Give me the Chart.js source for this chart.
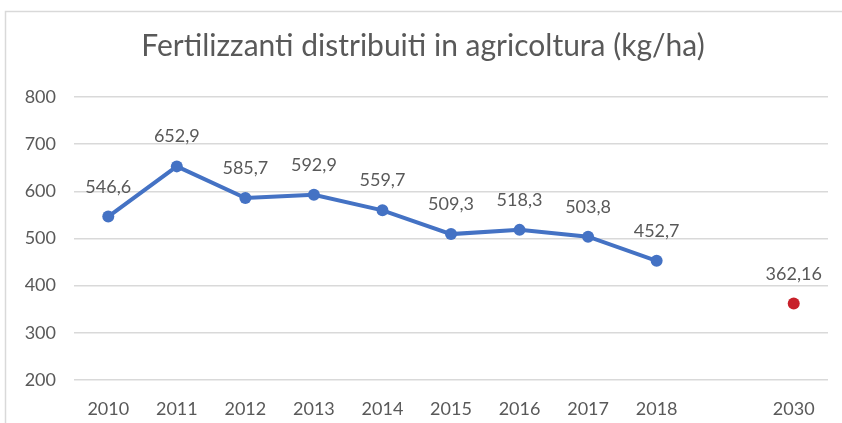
<!DOCTYPE html>
<html>
<head>
<meta charset="utf-8">
<script src="https://cdn.jsdelivr.net/npm/chart.js@4"></script>
<style>
  html, body { margin: 0; padding: 0; background: #fff; }
  #wrap { width: 842px; height: 423px; position: relative; }
</style>
</head>
<body>
<div id="wrap"><canvas id="chart" width="842" height="423"></canvas></div>
<script>
// categories: 2018 and 2030 are separated by an empty slot
const years = ['2010', '2011', '2012', '2013', '2014', '2015', '2016', '2017', '2018', '', '2030'];
const storico = [546.6, 652.9, 585.7, 592.9, 559.7, 509.3, 518.3, 503.8, 452.7, null, null];
const obiettivo = [null, null, null, null, null, null, null, null, null, null, 362.16];
const yTicks = [200, 300, 400, 500, 600, 700, 800];

const FONT = 'Lato, "Open Sans", sans-serif';
const TEXT = '#595959';

// frame around the chart, like the spreadsheet chart box
const framePlugin = {
    id: 'frame',
    beforeDraw(chart) {
        const c = chart.ctx;
        c.save();
        c.strokeStyle = '#d9d9d9';
        c.lineWidth = 1.5;
        c.strokeRect(5.5, 11.5, 900, 500);
        c.restore();
    }
};

// value labels above each point, decimal comma
const labelsPlugin = {
    id: 'valueLabels',
    afterDatasetsDraw(chart) {
        const c = chart.ctx;
        c.save();
        c.font = '18px ' + FONT;
        c.fillStyle = TEXT;
        c.textAlign = 'center';
        c.textBaseline = 'alphabetic';
        chart.data.datasets.forEach((ds, i) => {
            const meta = chart.getDatasetMeta(i);
            meta.data.forEach((pt, j) => {
                const v = ds.data[j];
                if (v == null) return;
                c.fillText(String(v).replace('.', ','), pt.x, pt.y - 24);
            });
        });
        c.restore();
    }
};

new Chart(document.getElementById('chart'), {
    type: 'line',
    data: {
        labels: years,
        datasets: [{
            label: 'Fertilizzanti',
            data: storico,
            borderColor: '#4472C4',
            backgroundColor: '#4472C4',
            borderWidth: 4,
            pointRadius: 6,
            pointHoverRadius: 6,
            pointBackgroundColor: '#4472C4',
            pointBorderWidth: 0,
            spanGaps: false,
            tension: 0
        }, {
            label: 'Obiettivo 2030',
            data: obiettivo,
            showLine: false,
            borderColor: '#C8202A',
            backgroundColor: '#C8202A',
            pointRadius: 6,
            pointBackgroundColor: '#C8202A',
            pointBorderWidth: 0
        }]
    },
    options: {
        responsive: false,
        animation: false,
        layout: { padding: { left: 18, right: 14, top: 0, bottom: 0 } },
        plugins: {
            legend: { display: false },
            tooltip: { enabled: false },
            title: {
                display: true,
                text: 'Fertilizzanti distribuiti in agricoltura (kg/ha)',
                color: TEXT,
                font: { family: FONT, size: 30, weight: 'normal' },
                padding: { top: 28, bottom: 33 }
            }
        },
        scales: {
            x: {
                offset: true,
                afterFit(s) { s.height = 43; },
                grid: { display: false },
                border: { display: false },
                ticks: { color: TEXT, font: { family: FONT, size: 18 }, padding: 10, autoSkip: false, maxRotation: 0 }
            },
            y: {
                min: yTicks[0],
                max: yTicks[yTicks.length - 1],
                afterBuildTicks(s) { s.ticks = yTicks.map(v => ({ value: v })); },
                afterFit(s) { s.width = 56; },
                grid: { color: '#d9d9d9', lineWidth: 1.5, drawTicks: false },
                border: { display: false },
                ticks: { color: TEXT, font: { family: FONT, size: 18 }, padding: 18 }
            }
        }
    },
    plugins: [framePlugin, labelsPlugin]
});
</script>
</body>
</html>
